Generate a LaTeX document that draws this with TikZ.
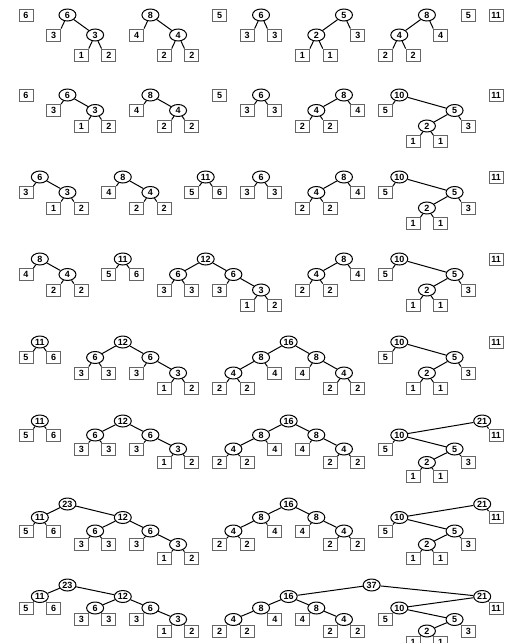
\documentclass[tikz,border=0pt]{standalone}
\usepackage{fontspec}
\setmainfont{Liberation Sans}
\usetikzlibrary{shapes.geometric}
\begin{document}
\begin{tikzpicture}[x=27.65pt,y=-1pt,line width=1pt,
  leaf/.style={draw=black!60,line width=.9pt,fill=white,minimum width=14pt,minimum height=12pt,inner sep=0pt,font=\fontsize{9}{9}\selectfont\bfseries},
  knot/.style={ellipse,draw,fill=white,minimum width=17pt,minimum height=12pt,inner sep=0pt,font=\fontsize{9}{9}\selectfont\bfseries}]
\path[use as bounding box] (-0.9403,0) rectangle (17.396,643);
\node[leaf] (a0) at (0,15) {6};
\node[knot] (a3) at (1.5,15) {6};
\node[leaf] (a2) at (1,35) {3};
\node[knot] (a5) at (2.5,35) {3};
\node[leaf] (a4) at (2,55) {1};
\node[leaf] (a6) at (3,55) {2};
\node[knot] (a9) at (4.5,15) {8};
\node[leaf] (a8) at (4,35) {4};
\node[knot] (a11) at (5.5,35) {4};
\node[leaf] (a10) at (5,55) {2};
\node[leaf] (a12) at (6,55) {2};
\node[leaf] (a14) at (7,15) {5};
\node[knot] (a17) at (8.5,15) {6};
\node[leaf] (a16) at (8,35) {3};
\node[leaf] (a18) at (9,35) {3};
\node[knot] (a23) at (11.5,15) {5};
\node[knot] (a21) at (10.5,35) {2};
\node[leaf] (a24) at (12,35) {3};
\node[leaf] (a20) at (10,55) {1};
\node[leaf] (a22) at (11,55) {1};
\node[knot] (a29) at (14.5,15) {8};
\node[knot] (a27) at (13.5,35) {4};
\node[leaf] (a30) at (15,35) {4};
\node[leaf] (a26) at (13,55) {2};
\node[leaf] (a28) at (14,55) {2};
\node[leaf] (a32) at (16,15) {5};
\node[leaf] (a34) at (17,15) {11};
\draw (a3) -- (a2.north east); \draw (a3) -- (a5);
\draw (a5) -- (a4.north east); \draw (a5) -- (a6.north west);
\draw (a9) -- (a8.north east); \draw (a9) -- (a11);
\draw (a11) -- (a10.north east); \draw (a11) -- (a12.north west);
\draw (a17) -- (a16.north east); \draw (a17) -- (a18.north west);
\draw (a23) -- (a21); \draw (a23) -- (a24.north west);
\draw (a21) -- (a20.north east); \draw (a21) -- (a22.north west);
\draw (a29) -- (a27); \draw (a29) -- (a30.north west);
\draw (a27) -- (a26.north east); \draw (a27) -- (a28.north west);
\node[leaf] (b0) at (0,95) {6};
\node[knot] (b3) at (1.5,95) {6};
\node[leaf] (b2) at (1,110.5) {3};
\node[knot] (b5) at (2.5,110.5) {3};
\node[leaf] (b4) at (2,126) {1};
\node[leaf] (b6) at (3,126) {2};
\node[knot] (b9) at (4.5,95) {8};
\node[leaf] (b8) at (4,110.5) {4};
\node[knot] (b11) at (5.5,110.5) {4};
\node[leaf] (b10) at (5,126) {2};
\node[leaf] (b12) at (6,126) {2};
\node[leaf] (b14) at (7,95) {5};
\node[knot] (b17) at (8.5,95) {6};
\node[leaf] (b16) at (8,110.5) {3};
\node[leaf] (b18) at (9,110.5) {3};
\node[knot] (b23) at (11.5,95) {8};
\node[knot] (b21) at (10.5,110.5) {4};
\node[leaf] (b24) at (12,110.5) {4};
\node[leaf] (b20) at (10,126) {2};
\node[leaf] (b22) at (11,126) {2};
\node[knot] (b27) at (13.5,95) {10};
\node[leaf] (b26) at (13,110.5) {5};
\node[knot] (b31) at (15.5,110.5) {5};
\node[knot] (b29) at (14.5,126) {2};
\node[leaf] (b32) at (16,126) {3};
\node[leaf] (b28) at (14,141.5) {1};
\node[leaf] (b30) at (15,141.5) {1};
\node[leaf] (b34) at (17,95) {11};
\draw (b3) -- (b2.north east); \draw (b3) -- (b5);
\draw (b5) -- (b4.north east); \draw (b5) -- (b6.north west);
\draw (b9) -- (b8.north east); \draw (b9) -- (b11);
\draw (b11) -- (b10.north east); \draw (b11) -- (b12.north west);
\draw (b17) -- (b16.north east); \draw (b17) -- (b18.north west);
\draw (b23) -- (b21); \draw (b23) -- (b24.north west);
\draw (b21) -- (b20.north east); \draw (b21) -- (b22.north west);
\draw (b27) -- (b26.north east); \draw (b27) -- (b31);
\draw (b31) -- (b29); \draw (b31) -- (b32.north west);
\draw (b29) -- (b28.north east); \draw (b29) -- (b30.north west);
\node[knot] (c1) at (0.5,177) {6};
\node[leaf] (c0) at (0,192.5) {3};
\node[knot] (c3) at (1.5,192.5) {3};
\node[leaf] (c2) at (1,208) {1};
\node[leaf] (c4) at (2,208) {2};
\node[knot] (c7) at (3.5,177) {8};
\node[leaf] (c6) at (3,192.5) {4};
\node[knot] (c9) at (4.5,192.5) {4};
\node[leaf] (c8) at (4,208) {2};
\node[leaf] (c10) at (5,208) {2};
\node[knot] (c13) at (6.5,177) {11};
\node[leaf] (c12) at (6,192.5) {5};
\node[leaf] (c14) at (7,192.5) {6};
\node[knot] (c17) at (8.5,177) {6};
\node[leaf] (c16) at (8,192.5) {3};
\node[leaf] (c18) at (9,192.5) {3};
\node[knot] (c23) at (11.5,177) {8};
\node[knot] (c21) at (10.5,192.5) {4};
\node[leaf] (c24) at (12,192.5) {4};
\node[leaf] (c20) at (10,208) {2};
\node[leaf] (c22) at (11,208) {2};
\node[knot] (c27) at (13.5,177) {10};
\node[leaf] (c26) at (13,192.5) {5};
\node[knot] (c31) at (15.5,192.5) {5};
\node[knot] (c29) at (14.5,208) {2};
\node[leaf] (c32) at (16,208) {3};
\node[leaf] (c28) at (14,223.5) {1};
\node[leaf] (c30) at (15,223.5) {1};
\node[leaf] (c34) at (17,177) {11};
\draw (c1) -- (c0.north east); \draw (c1) -- (c3);
\draw (c3) -- (c2.north east); \draw (c3) -- (c4.north west);
\draw (c7) -- (c6.north east); \draw (c7) -- (c9);
\draw (c9) -- (c8.north east); \draw (c9) -- (c10.north west);
\draw (c13) -- (c12.north east); \draw (c13) -- (c14.north west);
\draw (c17) -- (c16.north east); \draw (c17) -- (c18.north west);
\draw (c23) -- (c21); \draw (c23) -- (c24.north west);
\draw (c21) -- (c20.north east); \draw (c21) -- (c22.north west);
\draw (c27) -- (c26.north east); \draw (c27) -- (c31);
\draw (c31) -- (c29); \draw (c31) -- (c32.north west);
\draw (c29) -- (c28.north east); \draw (c29) -- (c30.north west);
\node[knot] (d1) at (0.5,259) {8};
\node[leaf] (d0) at (0,274.5) {4};
\node[knot] (d3) at (1.5,274.5) {4};
\node[leaf] (d2) at (1,290) {2};
\node[leaf] (d4) at (2,290) {2};
\node[knot] (d7) at (3.5,259) {11};
\node[leaf] (d6) at (3,274.5) {5};
\node[leaf] (d8) at (4,274.5) {6};
\node[knot] (d13) at (6.5,259) {12};
\node[knot] (d11) at (5.5,274.5) {6};
\node[knot] (d15) at (7.5,274.5) {6};
\node[leaf] (d10) at (5,290) {3};
\node[leaf] (d12) at (6,290) {3};
\node[leaf] (d14) at (7,290) {3};
\node[knot] (d17) at (8.5,290) {3};
\node[leaf] (d16) at (8,305.5) {1};
\node[leaf] (d18) at (9,305.5) {2};
\node[knot] (d23) at (11.5,259) {8};
\node[knot] (d21) at (10.5,274.5) {4};
\node[leaf] (d24) at (12,274.5) {4};
\node[leaf] (d20) at (10,290) {2};
\node[leaf] (d22) at (11,290) {2};
\node[knot] (d27) at (13.5,259) {10};
\node[leaf] (d26) at (13,274.5) {5};
\node[knot] (d31) at (15.5,274.5) {5};
\node[knot] (d29) at (14.5,290) {2};
\node[leaf] (d32) at (16,290) {3};
\node[leaf] (d28) at (14,305.5) {1};
\node[leaf] (d30) at (15,305.5) {1};
\node[leaf] (d34) at (17,259) {11};
\draw (d1) -- (d0.north east); \draw (d1) -- (d3);
\draw (d3) -- (d2.north east); \draw (d3) -- (d4.north west);
\draw (d7) -- (d6.north east); \draw (d7) -- (d8.north west);
\draw (d13) -- (d11); \draw (d13) -- (d15);
\draw (d11) -- (d10.north east); \draw (d11) -- (d12.north west);
\draw (d15) -- (d14.north east); \draw (d15) -- (d17);
\draw (d17) -- (d16.north east); \draw (d17) -- (d18.north west);
\draw (d23) -- (d21); \draw (d23) -- (d24.north west);
\draw (d21) -- (d20.north east); \draw (d21) -- (d22.north west);
\draw (d27) -- (d26.north east); \draw (d27) -- (d31);
\draw (d31) -- (d29); \draw (d31) -- (d32.north west);
\draw (d29) -- (d28.north east); \draw (d29) -- (d30.north west);
\node[knot] (e1) at (0.5,342) {11};
\node[leaf] (e0) at (0,357.5) {5};
\node[leaf] (e2) at (1,357.5) {6};
\node[knot] (e7) at (3.5,342) {12};
\node[knot] (e5) at (2.5,357.5) {6};
\node[knot] (e9) at (4.5,357.5) {6};
\node[leaf] (e4) at (2,373) {3};
\node[leaf] (e6) at (3,373) {3};
\node[leaf] (e8) at (4,373) {3};
\node[knot] (e11) at (5.5,373) {3};
\node[leaf] (e10) at (5,388.5) {1};
\node[leaf] (e12) at (6,388.5) {2};
\node[knot] (e19) at (9.5,342) {16};
\node[knot] (e17) at (8.5,357.5) {8};
\node[knot] (e21) at (10.5,357.5) {8};
\node[knot] (e15) at (7.5,373) {4};
\node[leaf] (e18) at (9,373) {4};
\node[leaf] (e14) at (7,388.5) {2};
\node[leaf] (e16) at (8,388.5) {2};
\node[leaf] (e20) at (10,373) {4};
\node[knot] (e23) at (11.5,373) {4};
\node[leaf] (e22) at (11,388.5) {2};
\node[leaf] (e24) at (12,388.5) {2};
\node[knot] (e27) at (13.5,342) {10};
\node[leaf] (e26) at (13,357.5) {5};
\node[knot] (e31) at (15.5,357.5) {5};
\node[knot] (e29) at (14.5,373) {2};
\node[leaf] (e32) at (16,373) {3};
\node[leaf] (e28) at (14,388.5) {1};
\node[leaf] (e30) at (15,388.5) {1};
\node[leaf] (e34) at (17,342) {11};
\draw (e1) -- (e0.north east); \draw (e1) -- (e2.north west);
\draw (e7) -- (e5); \draw (e7) -- (e9);
\draw (e5) -- (e4.north east); \draw (e5) -- (e6.north west);
\draw (e9) -- (e8.north east); \draw (e9) -- (e11);
\draw (e11) -- (e10.north east); \draw (e11) -- (e12.north west);
\draw (e19) -- (e17); \draw (e19) -- (e21);
\draw (e17) -- (e15); \draw (e17) -- (e18.north west);
\draw (e15) -- (e14.north east); \draw (e15) -- (e16.north west);
\draw (e21) -- (e20.north east); \draw (e21) -- (e23);
\draw (e23) -- (e22.north east); \draw (e23) -- (e24.north west);
\draw (e27) -- (e26.north east); \draw (e27) -- (e31);
\draw (e31) -- (e29); \draw (e31) -- (e32.north west);
\draw (e29) -- (e28.north east); \draw (e29) -- (e30.north west);
\node[knot] (f1) at (0.5,421) {11};
\node[leaf] (f0) at (0,435) {5};
\node[leaf] (f2) at (1,435) {6};
\node[knot] (f7) at (3.5,421) {12};
\node[knot] (f5) at (2.5,435) {6};
\node[knot] (f9) at (4.5,435) {6};
\node[leaf] (f4) at (2,449) {3};
\node[leaf] (f6) at (3,449) {3};
\node[leaf] (f8) at (4,449) {3};
\node[knot] (f11) at (5.5,449) {3};
\node[leaf] (f10) at (5,462.5) {1};
\node[leaf] (f12) at (6,462.5) {2};
\node[knot] (f19) at (9.5,421) {16};
\node[knot] (f17) at (8.5,435) {8};
\node[knot] (f21) at (10.5,435) {8};
\node[knot] (f15) at (7.5,449) {4};
\node[leaf] (f18) at (9,449) {4};
\node[leaf] (f14) at (7,462.5) {2};
\node[leaf] (f16) at (8,462.5) {2};
\node[leaf] (f20) at (10,449) {4};
\node[knot] (f23) at (11.5,449) {4};
\node[leaf] (f22) at (11,462.5) {2};
\node[leaf] (f24) at (12,462.5) {2};
\node[knot] (f33) at (16.5,421) {21};
\node[knot] (f27) at (13.5,435) {10};
\node[leaf] (f34) at (17,435) {11};
\node[leaf] (f26) at (13,449) {5};
\node[knot] (f31) at (15.5,449) {5};
\node[knot] (f29) at (14.5,462.5) {2};
\node[leaf] (f32) at (16,462.5) {3};
\node[leaf] (f28) at (14,476) {1};
\node[leaf] (f30) at (15,476) {1};
\draw (f1) -- (f0.north east); \draw (f1) -- (f2.north west);
\draw (f7) -- (f5); \draw (f7) -- (f9);
\draw (f5) -- (f4.north east); \draw (f5) -- (f6.north west);
\draw (f9) -- (f8.north east); \draw (f9) -- (f11);
\draw (f11) -- (f10.north east); \draw (f11) -- (f12.north west);
\draw (f19) -- (f17); \draw (f19) -- (f21);
\draw (f17) -- (f15); \draw (f17) -- (f18.north west);
\draw (f15) -- (f14.north east); \draw (f15) -- (f16.north west);
\draw (f21) -- (f20.north east); \draw (f21) -- (f23);
\draw (f23) -- (f22.north east); \draw (f23) -- (f24.north west);
\draw (f33) -- (f27); \draw (f33) -- (f34.north west);
\draw (f27) -- (f26.north east); \draw (f27) -- (f31);
\draw (f31) -- (f29); \draw (f31) -- (f32.north west);
\draw (f29) -- (f28.north east); \draw (f29) -- (f30.north west);
\node[knot] (g3) at (1.5,504) {23};
\node[knot] (g1) at (0.5,517.5) {11};
\node[leaf] (g0) at (0,531) {5};
\node[leaf] (g2) at (1,531) {6};
\node[knot] (g7) at (3.5,517.5) {12};
\node[knot] (g5) at (2.5,531) {6};
\node[knot] (g9) at (4.5,531) {6};
\node[leaf] (g4) at (2,544.5) {3};
\node[leaf] (g6) at (3,544.5) {3};
\node[leaf] (g8) at (4,544.5) {3};
\node[knot] (g11) at (5.5,544.5) {3};
\node[leaf] (g10) at (5,558) {1};
\node[leaf] (g12) at (6,558) {2};
\node[knot] (g19) at (9.5,504) {16};
\node[knot] (g17) at (8.5,517.5) {8};
\node[knot] (g21) at (10.5,517.5) {8};
\node[knot] (g15) at (7.5,531) {4};
\node[leaf] (g18) at (9,531) {4};
\node[leaf] (g14) at (7,544.5) {2};
\node[leaf] (g16) at (8,544.5) {2};
\node[leaf] (g20) at (10,531) {4};
\node[knot] (g23) at (11.5,531) {4};
\node[leaf] (g22) at (11,544.5) {2};
\node[leaf] (g24) at (12,544.5) {2};
\node[knot] (g33) at (16.5,504) {21};
\node[knot] (g27) at (13.5,517.5) {10};
\node[leaf] (g34) at (17,517.5) {11};
\node[leaf] (g26) at (13,531) {5};
\node[knot] (g31) at (15.5,531) {5};
\node[knot] (g29) at (14.5,544.5) {2};
\node[leaf] (g32) at (16,544.5) {3};
\node[leaf] (g28) at (14,558) {1};
\node[leaf] (g30) at (15,558) {1};
\draw (g3) -- (g1); \draw (g3) -- (g7);
\draw (g1) -- (g0.north east); \draw (g1) -- (g2.north west);
\draw (g7) -- (g5); \draw (g7) -- (g9);
\draw (g5) -- (g4.north east); \draw (g5) -- (g6.north west);
\draw (g9) -- (g8.north east); \draw (g9) -- (g11);
\draw (g11) -- (g10.north east); \draw (g11) -- (g12.north west);
\draw (g19) -- (g17); \draw (g19) -- (g21);
\draw (g17) -- (g15); \draw (g17) -- (g18.north west);
\draw (g15) -- (g14.north east); \draw (g15) -- (g16.north west);
\draw (g21) -- (g20.north east); \draw (g21) -- (g23);
\draw (g23) -- (g22.north east); \draw (g23) -- (g24.north west);
\draw (g33) -- (g27); \draw (g33) -- (g34.north west);
\draw (g27) -- (g26.north east); \draw (g27) -- (g31);
\draw (g31) -- (g29); \draw (g31) -- (g32.north west);
\draw (g29) -- (g28.north east); \draw (g29) -- (g30.north west);
\node[knot] (h3) at (1.5,585) {23};
\node[knot] (h1) at (0.5,596.5) {11};
\node[leaf] (h0) at (0,608) {5};
\node[leaf] (h2) at (1,608) {6};
\node[knot] (h7) at (3.5,596.5) {12};
\node[knot] (h5) at (2.5,608) {6};
\node[knot] (h9) at (4.5,608) {6};
\node[leaf] (h4) at (2,619.5) {3};
\node[leaf] (h6) at (3,619.5) {3};
\node[leaf] (h8) at (4,619.5) {3};
\node[knot] (h11) at (5.5,619.5) {3};
\node[leaf] (h10) at (5,631) {1};
\node[leaf] (h12) at (6,631) {2};
\node[knot] (h25) at (12.5,585) {37};
\node[knot] (h19) at (9.5,596.5) {16};
\node[knot] (h17) at (8.5,608) {8};
\node[knot] (h21) at (10.5,608) {8};
\node[knot] (h15) at (7.5,619.5) {4};
\node[leaf] (h18) at (9,619.5) {4};
\node[leaf] (h14) at (7,631) {2};
\node[leaf] (h16) at (8,631) {2};
\node[leaf] (h20) at (10,619.5) {4};
\node[knot] (h23) at (11.5,619.5) {4};
\node[leaf] (h22) at (11,631) {2};
\node[leaf] (h24) at (12,631) {2};
\node[knot] (h33) at (16.5,596.5) {21};
\node[knot] (h27) at (13.5,608) {10};
\node[leaf] (h34) at (17,608) {11};
\node[leaf] (h26) at (13,619.5) {5};
\node[knot] (h31) at (15.5,619.5) {5};
\node[knot] (h29) at (14.5,631) {2};
\node[leaf] (h32) at (16,631) {3};
\node[leaf] (h28) at (14,642.5) {1};
\node[leaf] (h30) at (15,642.5) {1};
\draw (h3) -- (h1); \draw (h3) -- (h7);
\draw (h1) -- (h0.north east); \draw (h1) -- (h2.north west);
\draw (h7) -- (h5); \draw (h7) -- (h9);
\draw (h5) -- (h4.north east); \draw (h5) -- (h6.north west);
\draw (h9) -- (h8.north east); \draw (h9) -- (h11);
\draw (h11) -- (h10.north east); \draw (h11) -- (h12.north west);
\draw (h25) -- (h19); \draw (h25) -- (h33);
\draw (h19) -- (h17); \draw (h19) -- (h21);
\draw (h17) -- (h15); \draw (h17) -- (h18.north west);
\draw (h15) -- (h14.north east); \draw (h15) -- (h16.north west);
\draw (h21) -- (h20.north east); \draw (h21) -- (h23);
\draw (h23) -- (h22.north east); \draw (h23) -- (h24.north west);
\draw (h33) -- (h27); \draw (h33) -- (h34.north west);
\draw (h27) -- (h26.north east); \draw (h27) -- (h31);
\draw (h31) -- (h29); \draw (h31) -- (h32.north west);
\draw (h29) -- (h28.north east); \draw (h29) -- (h30.north west);
\end{tikzpicture}
\end{document}
